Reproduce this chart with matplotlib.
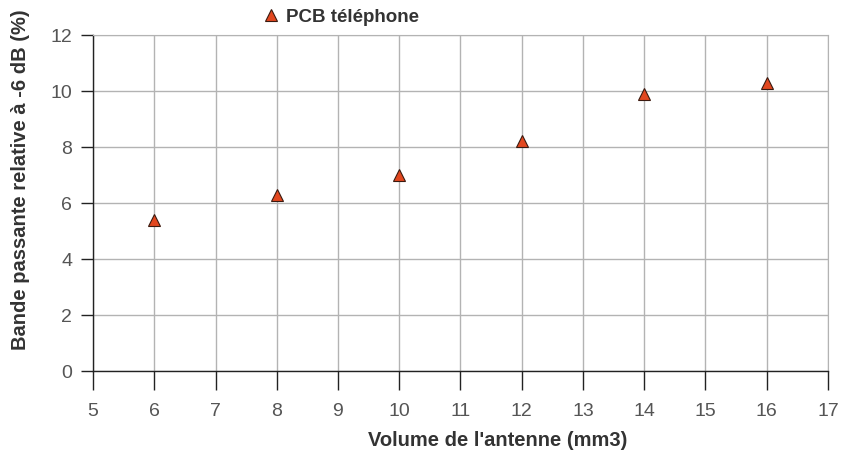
import matplotlib
matplotlib.use("Agg")
import matplotlib.pyplot as plt
from matplotlib.ticker import MultipleLocator

# data
volume = [6, 8, 10, 12, 14, 16]
bandwidth = [5.4, 6.3, 7.0, 8.2, 9.9, 10.3]
series_name = "PCB téléphone"

plt.rcParams['font.family'] = ['Liberation Sans', 'DejaVu Sans']

fig = plt.figure(figsize=(8.41, 4.54), dpi=100)
ax = fig.add_axes([0.1106, 0.1828, 0.8739, 0.7401])

ax.plot(volume, bandwidth, linestyle='none', marker='^', markersize=9,
        markerfacecolor='#e2471f', markeredgecolor='#3a1a10', markeredgewidth=0.8,
        label=series_name, zorder=3)

ax.set_xlim(5, 17)
ax.set_ylim(0, 12)
ax.xaxis.set_major_locator(MultipleLocator(1))
ax.yaxis.set_major_locator(MultipleLocator(2))
ax.grid(True, color='#b3b3b3', linewidth=1)
ax.set_axisbelow(True)

for side in ['top', 'right']:
    ax.spines[side].set_color('#b3b3b3')
for side in ['left', 'bottom']:
    ax.spines[side].set_color('#222222')
    ax.spines[side].set_linewidth(1)

ax.tick_params(axis='x', direction='out', length=14, width=1, color='#222222',
               labelsize=14, labelcolor='#555555', pad=9)
ax.tick_params(axis='y', direction='out', length=9, width=1, color='#222222',
               labelsize=14, labelcolor='#555555', pad=6)
for lab in ax.get_xticklabels() + ax.get_yticklabels():
    lab.set_family(['Liberation Sans Narrow', 'Liberation Sans', 'DejaVu Sans'])

ax.set_xlabel("Volume de l'antenne (mm3)", fontsize=14.5, fontweight='bold',
              color='#333333')
ax.set_ylabel("Bande passante relative à -6 dB (%)", fontsize=14.5, fontweight='bold',
              color='#333333')
ax.xaxis.set_label_coords(0.55, -0.18)
ax.yaxis.set_label_coords(-0.086, 0.568)

leg = fig.legend(loc='center', bbox_to_anchor=(0.405, 0.962), frameon=False,
                 fontsize=13.5, handletextpad=0.3, borderpad=0, handlelength=1)
for t in leg.get_texts():
    t.set_fontweight('bold')
    t.set_color('#333333')

fig.savefig('out.png', dpi=100)
